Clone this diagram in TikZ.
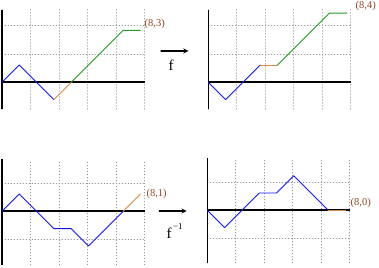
\documentclass[tikz,border=0pt]{standalone}
\usepackage{fontspec}
\setmainfont{Liberation Serif}
\definecolor{walkblue}{RGB}{20,20,255}
\definecolor{walkorange}{RGB}{215,140,70}
\definecolor{walkgreen}{RGB}{30,160,30}
\definecolor{endbrown}{RGB}{150,70,30}
\tikzset{
	gridline/.style={gray!80,line width=0.6pt,dash pattern=on 0.7pt off 2.3pt},
	axis/.style={line width=1.6pt,line cap=butt},
	walk/.style={line width=0.9pt,line join=round},
	endlabel/.style={text=endbrown,font=\fontsize{10.5}{12}\selectfont},
	maplabel/.style={font=\fontsize{15}{18}\selectfont}
}
\begin{document}
\begin{tikzpicture}[x=17.3pt,y=17.3pt,line cap=round,>=stealth]
	\useasboundingbox (0,0) rectangle (379pt,267pt);
	% upper left walk
	\begin{scope}[shift={(2pt,184.7pt)}]
		\draw[gridline] (0,-1.56) grid (8.25,4.2);
		\draw[axis] (0,-1.56) -- (0,4.2);
		\draw[axis] (0,0) -- (8.27,0);
		\draw[walk,walkblue] (0,0) -- (1,1) -- (2,0) -- (3,-1);
		\draw[walk,walkorange] (3,-1) -- (4,0);
		\draw[walk,walkgreen] (4,0) -- (7,3) -- (8,3);
		\node[endlabel] (endA) at (8.83,3.38) {(8,3)};
	\end{scope}
	% upper right walk
	\begin{scope}[shift={(208.3pt,184.7pt)}]
		\draw[gridline] (0,-1.56) grid (8.25,4.2);
		\draw[axis] (0,-1.56) -- (0,4.2);
		\draw[axis] (0,0) -- (8.25,0);
		\draw[walk,walkblue] (0,0) -- (1,-1) -- (2,0) -- (3,1);
		\draw[walk,walkorange] (3,1) -- (4,1);
		\draw[walk,walkgreen] (4,1) -- (7,4) -- (8,4);
		\node[endlabel] (endB) at (9.1,4.41) {(8,4)};
	\end{scope}
	% lower left walk
	\begin{scope}[shift={(2pt,55.7pt)}]
		\draw[gridline] (0,-3.1) grid (8.25,2.95);
		\draw[axis] (0,-3.1) -- (0,3.0);
		\draw[axis] (0,0) -- (8.27,0);
		\draw[walk,walkblue] (0,0) -- (1,1) -- (2,0) -- (3,-1) -- (4,-1) -- (5,-2) -- (6,-1) -- (7,0);
		\draw[walk,walkorange] (7,0) -- (8,1);
		\node[endlabel] (endC) at (8.94,1.0) {(8,1)};
	\end{scope}
	% lower right walk
	\begin{scope}[shift={(207.3pt,56.7pt)}]
		\draw[gridline] (0,-3.05) grid (8.25,2.95);
		\draw[axis] (0,-3.05) -- (0,3.05);
		\draw[axis] (0,0) -- (8.25,0);
		\draw[walk,walkblue] (0,0) -- (1,-1) -- (2,0) -- (3,1) -- (4,1) -- (5,2) -- (6,1) -- (7,0);
		\draw[walk,walkorange] (7,0) -- (8,0);
		\node[endlabel] (endD) at (8.87,0.4) {(8,0)};
	\end{scope}
	% maps
	\coordinate (fin) at (161pt,216pt);
	\coordinate (fout) at (188.5pt,216pt);
	\draw[->,line width=1.3pt] (fin) -- (fout);
	\node[maplabel] (fname) at (171pt,201.5pt) {f};
	\coordinate (ginv) at (159.3pt,56pt);
	\coordinate (goutv) at (186.7pt,56pt);
	\draw[->,line width=1.3pt] (ginv) -- (goutv);
	\node[maplabel] (finvname) at (174.7pt,36.2pt) {f\hspace{1.5pt}\raisebox{9pt}{\fontsize{9}{10}\selectfont −1}};
\end{tikzpicture}
\end{document}
